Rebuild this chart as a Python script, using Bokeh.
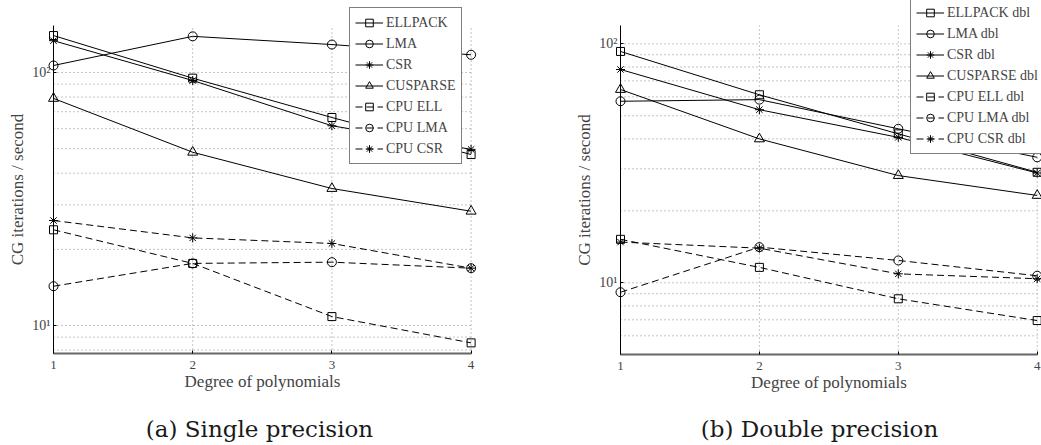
from bokeh.plotting import figure
from bokeh.models import (Range1d, FixedTicker, Legend, LegendItem, Label,
                          BasicTickFormatter)
from bokeh.layouts import row
from bokeh.embed import file_html
from bokeh.resources import INLINE

# ---------------- data ----------------
degrees = [1, 2, 3, 4]

names_single = ["ELLPACK", "LMA", "CSR", "CUSPARSE", "CPU ELL", "CPU LMA", "CPU CSR"]
ellpack_sp = [140.0, 95.0, 66.4, 47.4]
lma_sp = [106.6, 139.0, 129.0, 117.5]
csr_sp = [133.6, 93.0, 61.6, 49.7]
cusparse_sp = [79.0, 48.4, 34.8, 28.3]
cpu_ell_sp = [23.9, 17.6, 10.85, 8.54]
cpu_lma_sp = [14.3, 17.6, 17.8, 16.85]
cpu_csr_sp = [26.0, 22.2, 21.1, 16.85]

names_double = ["ELLPACK dbl", "LMA dbl", "CSR dbl", "CUSPARSE dbl",
                "CPU ELL dbl", "CPU LMA dbl", "CPU CSR dbl"]
ellpack_dp = [92.9, 61.2, 42.0, 29.0]
lma_dp = [57.5, 58.4, 44.1, 33.5]
csr_dp = [78.1, 53.0, 40.6, 28.8]
cusparse_dp = [64.4, 40.0, 28.1, 23.2]
cpu_ell_dp = [15.2, 11.6, 8.57, 6.95]
cpu_lma_dp = [9.13, 14.1, 12.4, 10.7]
cpu_csr_dp = [14.8, 13.96, 10.9, 10.4]

y_tick_values = [10, 100]
y_tick_labels = ["10\u00b9", "10\u00b2"]
grid_single = [8, 9, 10, 20, 30, 40, 50, 60, 70, 80, 90, 100]
grid_double = [6, 7, 8, 9, 10, 20, 30, 40, 50, 60, 70, 80, 90, 100]
y_axis_single = (7.75, 153)
y_axis_double = (5.01, 119)

# ---------------- styles ----------------
FONT = "Liberation Serif"
CAP_FONT = "DejaVu Serif"
markers = ["square", "circle", "asterisk", "triangle", "square", "circle", "asterisk"]
msizes = [8, 9, 9, 10, 8, 9, 9]
dashes = ["solid"] * 4 + ["7 4"] * 3
H = 445


def build(names, data, fig_w, xr, yr, y_axis, hgrid, legend_loc, caption, cap_x):
    p = figure(width=fig_w, height=H, x_range=Range1d(*xr), y_range=Range1d(*yr),
               y_axis_type="log", output_backend="svg", toolbar_location=None,
               min_border_left=0, min_border_right=0, min_border_top=0,
               min_border_bottom=0)
    p.outline_line_color = None
    p.grid.visible = False
    p.background_fill_color = "white"

    y_lo, y_hi = y_axis
    # dotted grid
    p.segment(x0=[degrees[0]] * len(hgrid), x1=[degrees[-1]] * len(hgrid), y0=hgrid, y1=hgrid,
              line_color="#8a8a8a", line_width=1, line_dash="1 3")
    p.segment(x0=degrees, x1=degrees, y0=[y_lo] * len(degrees), y1=[y_hi] * len(degrees),
              line_color="#8a8a8a", line_width=1, line_dash="1 3")

    items = []
    for name, vals, mk, sz, dash in zip(names, data, markers, msizes, dashes):
        r1 = p.line(degrees, vals, line_color="black", line_width=1, line_dash=dash)
        r2 = p.scatter(degrees, vals, marker=mk, size=sz, line_color="black",
                       fill_color=None, line_width=1)
        items.append(LegendItem(label=name, renderers=[r1, r2]))

    leg = Legend(items=items, location=legend_loc, margin=0, padding=5, spacing=2,
                 glyph_width=28, glyph_height=19, label_height=19, label_standoff=3,
                 label_text_font=FONT, label_text_font_size="14px",
                 border_line_color="black", border_line_width=1,
                 background_fill_color="white", background_fill_alpha=1.0)
    p.add_layout(leg)

    xa = p.xaxis[0]
    xa.ticker = FixedTicker(ticks=degrees)
    xa.fixed_location = y_lo
    xa.bounds = (degrees[0], degrees[-1])
    xa.axis_label = "Degree of polynomials"
    xa.axis_label_text_font = FONT
    xa.axis_label_text_font_size = "17px"
    xa.axis_label_text_font_style = "normal"
    xa.axis_label_standoff = 0
    xa.major_label_text_font = FONT
    xa.major_label_text_font_size = "13px"
    xa.major_label_standoff = 7
    xa.major_tick_out = 0
    xa.major_tick_in = 3
    xa.minor_tick_line_color = None
    xa.axis_line_color = "#666666"
    xa.axis_line_width = 2

    ya = p.yaxis[0]
    ya.ticker = FixedTicker(ticks=y_tick_values)
    ya.formatter = BasicTickFormatter()
    ya.major_label_overrides = dict(zip(y_tick_values, y_tick_labels))
    ya.fixed_location = degrees[0]
    ya.bounds = (y_lo, y_hi)
    ya.axis_label = "CG iterations / second"
    ya.axis_label_text_font = FONT
    ya.axis_label_text_font_size = "17px"
    ya.axis_label_text_font_style = "normal"
    ya.axis_label_standoff = 2
    ya.major_label_text_font = FONT
    ya.major_label_text_font_size = "14px"
    ya.major_label_standoff = 3
    ya.major_tick_out = 0
    ya.major_tick_in = 3
    ya.minor_tick_line_color = None
    ya.axis_line_color = "black"
    ya.axis_line_width = 1

    p.add_layout(Label(x=cap_x, y=17, x_units="screen", y_units="screen", text=caption,
                       text_align="center", text_baseline="middle", text_font=CAP_FONT,
                       text_font_size="23px", text_color="#1a1a1a"))
    return p


left = build(names_single,
             [ellpack_sp, lma_sp, csr_sp, cusparse_sp, cpu_ell_sp, cpu_lma_sp, cpu_csr_sp],
             575, (0.61925, 4.75), (3.356, 192.6), y_axis_single, grid_single,
             (349, 281), "(a) Single precision", 259)

right = build(names_double,
              [ellpack_dp, lma_dp, csr_dp, cusparse_dp, cpu_ell_dp, cpu_lma_dp, cpu_csr_dp],
              466, (0.676, 4.031), (2.085, 151.8), y_axis_double, grid_double,
              (335, 291), "(b) Double precision", 244)

layout = row(left, right)
open("out.html", "w").write(file_html(layout, INLINE))
